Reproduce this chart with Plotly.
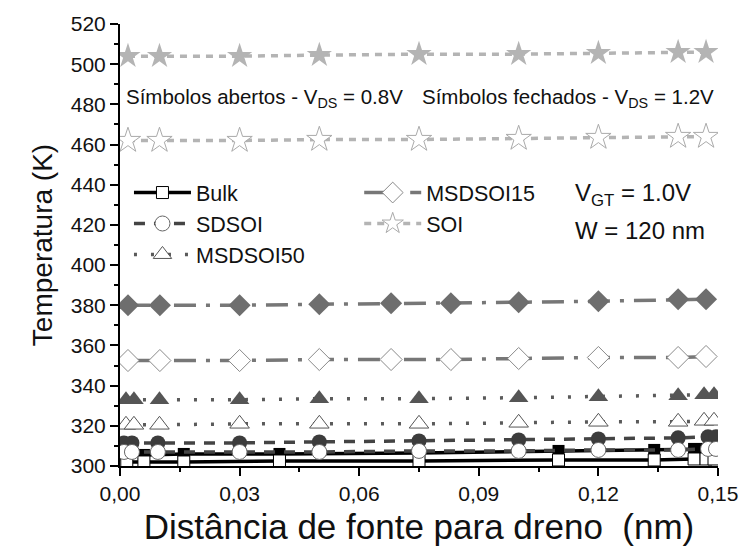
import plotly.graph_objects as go

# ---------------- data ----------------
x_bulk = [0.0017, 0.006, 0.016, 0.040, 0.075, 0.110, 0.134, 0.144, 0.147, 0.149]
bulk_12 = [305.5, 305.5, 306.0, 306.0, 306.5, 307.5, 308.0, 308.5, 308.5, 308.5]
bulk_08 = [302.0, 302.0, 302.0, 302.5, 302.5, 303.0, 303.0, 303.5, 303.5, 303.5]

x_sd = [0.001, 0.003, 0.0095, 0.03, 0.05, 0.075, 0.10, 0.12, 0.14, 0.1475, 0.1495]
sd_12 = [311.5, 311.5, 311.5, 311.5, 312.0, 312.5, 313.0, 313.5, 314.0, 314.5, 314.5]
sd_08 = [307.0, 307.0, 307.0, 307.0, 307.0, 307.5, 307.5, 308.0, 308.0, 308.5, 308.5]

x_m50 = [0.0015, 0.0035, 0.0099, 0.03, 0.05, 0.075, 0.10, 0.12, 0.14, 0.1465, 0.149]
m50_12 = [333.0, 333.0, 333.0, 333.0, 333.5, 333.5, 334.0, 334.5, 335.0, 335.5, 335.5]
m50_08 = [320.5, 320.5, 320.5, 321.0, 321.0, 321.0, 321.5, 322.0, 322.0, 322.5, 322.5]

x_m15 = [0.002, 0.010, 0.03, 0.05, 0.068, 0.083, 0.10, 0.12, 0.14, 0.147]
m15_12 = [380.0, 380.0, 380.0, 380.5, 381.0, 381.0, 381.5, 382.0, 383.0, 383.0]
m15_08 = [352.5, 352.5, 352.5, 353.0, 353.0, 353.0, 353.5, 354.0, 354.0, 354.5]

x_soi = [0.002, 0.0099, 0.03, 0.05, 0.075, 0.10, 0.12, 0.14, 0.147]
soi_12 = [504.0, 504.0, 504.0, 504.5, 505.0, 505.0, 505.5, 506.0, 506.0]
soi_08 = [462.0, 462.0, 462.0, 462.5, 462.5, 463.0, 463.5, 464.0, 464.0]

x_ticks = [0.00, 0.03, 0.06, 0.09, 0.12, 0.15]
y_ticks = [300, 320, 340, 360, 380, 400, 420, 440, 460, 480, 500, 520]

FONT = "Liberation Sans"

# style per series: (name, x, y08, y12, line color, dash, symbol, size, closed fill, open edge, legend)
series = [
    ("Bulk", x_bulk, bulk_08, bulk_12, "#000000", "solid", "square", 12, "#000000", "#000000", "legend"),
    ("SDSOI", x_sd, sd_08, sd_12, "#444444", "11px,9px", "circle", 15, "#3c3c3c", "#666666", "legend"),
    ("MSDSOI50", x_m50, m50_08, m50_12, "#5a5a5a", "3px,14px", "triangle-up", 17, "#555555", "#555555", "legend"),
    ("MSDSOI15", x_m15, m15_08, m15_12, "#777777", "22px,10px,4px,10px", "diamond", 17, "#6e6e6e", "#8a8a8a", "legend2"),
    ("SOI", x_soi, soi_08, soi_12, "#b4b4b4", "7px,6px", "star", 19, "#b4b4b4", "#aaaaaa", "legend2"),
]

fig = go.Figure()
for name, xs, y08, y12, lc, dash, sym, sz, fill, edge, leg in series:
    # closed symbols (V_DS = 1.2 V)
    fig.add_trace(go.Scatter(
        x=xs, y=y12, mode="lines+markers", name=name, showlegend=False,
        line=dict(color=lc, width=3.5, dash=dash),
        marker=dict(symbol=sym, size=sz, color=fill, line=dict(width=0))))
    # open symbols (V_DS = 0.8 V)
    fig.add_trace(go.Scatter(
        x=xs, y=y08, mode="lines+markers", name=name, legend=leg,
        line=dict(color=lc, width=3.5, dash=dash),
        marker=dict(symbol=sym, size=sz, color="white", line=dict(width=1, color=edge))))

fig.update_layout(
    width=750, height=552,
    margin=dict(l=120, r=25, t=22, b=86),
    paper_bgcolor="white", plot_bgcolor="white",
    separators=",.",
    font=dict(family=FONT, color="#111111"),
    legend=dict(x=0.015, y=0.665, xanchor="left", yanchor="top",
                bgcolor="rgba(0,0,0,0)", font=dict(size=21.5, family=FONT),
                tracegroupgap=0, itemwidth=57),
    legend2=dict(x=0.40, y=0.665, xanchor="left", yanchor="top",
                 bgcolor="rgba(0,0,0,0)", font=dict(size=21.5, family=FONT),
                 tracegroupgap=0, itemwidth=57),
    xaxis=dict(range=[0, 0.15], tickvals=x_ticks, tickformat=".2f",
               ticks="outside", ticklen=8, tickwidth=1.5, tickcolor="black",
               minor=dict(dtick=0.015, tick0=0, ticks="outside", ticklen=4, tickwidth=1.5, tickcolor="black"),
               showline=True, linewidth=2, linecolor="black", showgrid=False, zeroline=False,
               tickfont=dict(size=21, family=FONT),
               title=dict(text="Distância de fonte para dreno  (nm)", font=dict(size=35, family=FONT), standoff=10)),
    yaxis=dict(range=[300, 520], tickvals=y_ticks,
               ticks="outside", ticklen=8, tickwidth=1.5, tickcolor="black",
               minor=dict(dtick=10, tick0=300, ticks="outside", ticklen=4, tickwidth=1.5, tickcolor="black"),
               showline=True, linewidth=2, linecolor="black", showgrid=False, zeroline=False,
               tickfont=dict(size=21, family=FONT),
               title=dict(text="Temperatura (K)", font=dict(size=28, family=FONT), standoff=10)),
    xaxis2=dict(range=[0, 0.15], overlaying="x", side="top", anchor="y", tickvals=x_ticks,
                ticks="inside", ticklen=8, tickwidth=1.5, tickcolor="black", showticklabels=False,
                minor=dict(dtick=0.015, tick0=0, ticks="inside", ticklen=4, tickwidth=1.5, tickcolor="black"),
                showline=True, linewidth=2, linecolor="black", showgrid=False, zeroline=False),
    yaxis2=dict(range=[300, 520], overlaying="y", side="right", anchor="x", tickvals=y_ticks,
                ticks="inside", ticklen=8, tickwidth=1.5, tickcolor="black", showticklabels=False,
                minor=dict(dtick=10, tick0=300, ticks="inside", ticklen=4, tickwidth=1.5, tickcolor="black"),
                showline=True, linewidth=2, linecolor="black", showgrid=False, zeroline=False),
)

ann_font = dict(size=20.5, family=FONT, color="#111111")
fig.add_annotation(xref="paper", yref="paper", x=0.006, y=0.833, xanchor="left", yanchor="middle",
                   text="Símbolos abertos - V<sub>DS</sub> = 0.8V", showarrow=False, font=ann_font)
fig.add_annotation(xref="paper", yref="paper", x=0.997, y=0.833, xanchor="right", yanchor="middle",
                   text="Símbolos fechados - V<sub>DS</sub> = 1.2V", showarrow=False, font=ann_font)
fig.add_annotation(xref="paper", yref="paper", x=0.758, y=0.615, xanchor="left", yanchor="middle",
                   text="V<sub>GT</sub> = 1.0V", showarrow=False, font=dict(size=24, family=FONT, color="#111111"))
fig.add_annotation(xref="paper", yref="paper", x=0.758, y=0.532, xanchor="left", yanchor="middle",
                   text="W = 120 nm", showarrow=False, font=dict(size=24, family=FONT, color="#111111"))

fig.write_html("out.html")
